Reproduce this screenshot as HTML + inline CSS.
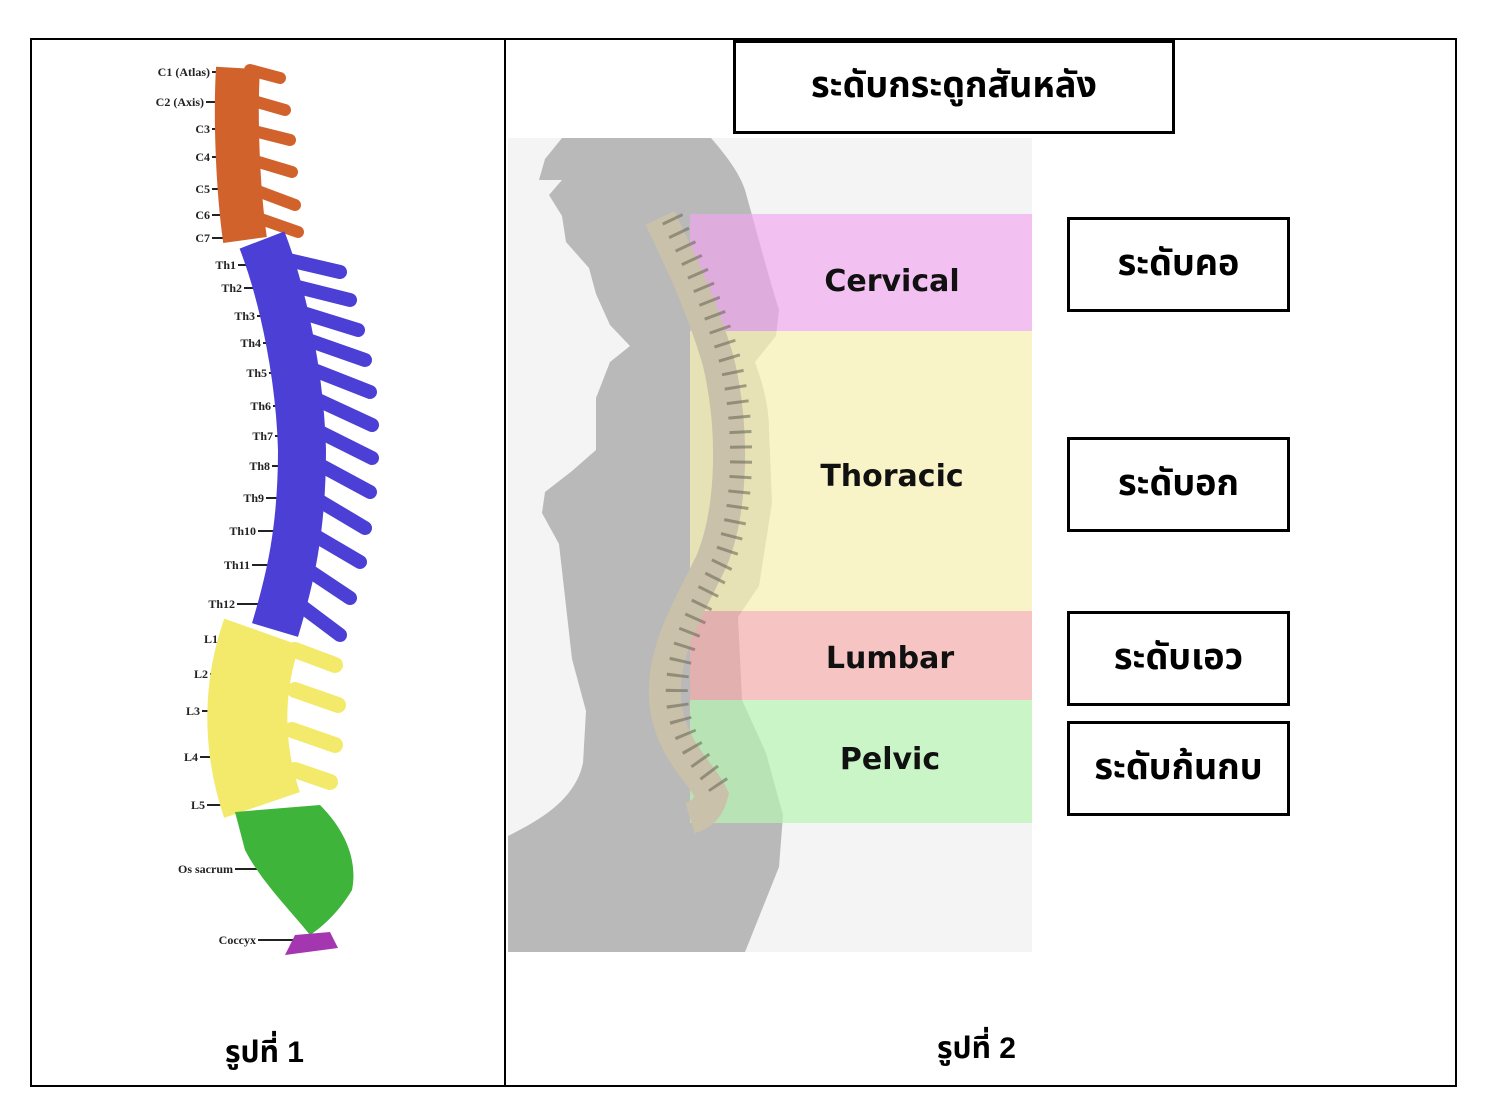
<!DOCTYPE html>
<html><head><meta charset="utf-8"><style>
body{margin:0;background:#fff;width:1496px;height:1120px;position:relative;overflow:hidden;font-family:"Liberation Sans",sans-serif}
.abs{position:absolute}
.box{position:absolute;border:3px solid #000;background:#fff;display:flex;align-items:center;justify-content:center;font-weight:bold;font-size:36px;box-sizing:border-box;font-family:"Liberation Sans","Noto Sans Thai","Garuda","Loma",sans-serif}
.cap{position:absolute;font-weight:bold;font-size:30px;font-family:"Liberation Sans","Noto Sans Thai","Garuda",sans-serif}
</style></head><body>
<div class="abs" style="left:30px;top:38px;width:1423px;height:1045px;border:2px solid #000"></div>
<div class="abs" style="left:504px;top:38px;width:2px;height:1047px;background:#000"></div>

<svg class="abs" style="left:0;top:0" width="1496" height="1120">
<g font-family="Liberation Serif,serif" font-size="12" font-weight="bold" fill="#222" text-anchor="end">
<text x="210" y="76">C1 (Atlas)</text><text x="204" y="106">C2 (Axis)</text>
<text x="210" y="133">C3</text><text x="210" y="161">C4</text><text x="210" y="193">C5</text><text x="210" y="219">C6</text><text x="210" y="242">C7</text>
<text x="236" y="269">Th1</text><text x="242" y="292">Th2</text><text x="255" y="320">Th3</text><text x="261" y="347">Th4</text><text x="267" y="377">Th5</text><text x="271" y="410">Th6</text><text x="273" y="440">Th7</text><text x="270" y="470">Th8</text><text x="264" y="502">Th9</text><text x="256" y="535">Th10</text><text x="250" y="569">Th11</text><text x="235" y="608">Th12</text>
<text x="218" y="643">L1</text><text x="208" y="678">L2</text><text x="200" y="715">L3</text><text x="198" y="761">L4</text><text x="205" y="809">L5</text>
<text x="233" y="873">Os sacrum</text><text x="256" y="944">Coccyx</text>
</g>
<g stroke="#222" stroke-width="2">
<line x1="212" y1="72" x2="222" y2="72"/><line x1="206" y1="102" x2="222" y2="102"/><line x1="212" y1="129" x2="225" y2="129"/><line x1="212" y1="157" x2="225" y2="157"/><line x1="212" y1="189" x2="228" y2="189"/><line x1="212" y1="215" x2="230" y2="215"/><line x1="212" y1="238" x2="235" y2="238"/>
<line x1="238" y1="265" x2="258" y2="265"/><line x1="244" y1="288" x2="266" y2="288"/><line x1="257" y1="316" x2="276" y2="316"/><line x1="263" y1="343" x2="284" y2="343"/><line x1="269" y1="373" x2="290" y2="373"/><line x1="273" y1="406" x2="292" y2="406"/><line x1="275" y1="436" x2="292" y2="436"/><line x1="272" y1="466" x2="290" y2="466"/><line x1="266" y1="498" x2="286" y2="498"/><line x1="258" y1="531" x2="280" y2="531"/><line x1="252" y1="565" x2="272" y2="565"/><line x1="237" y1="604" x2="260" y2="604"/>
<line x1="220" y1="639" x2="244" y2="639"/><line x1="210" y1="674" x2="232" y2="674"/><line x1="202" y1="711" x2="225" y2="711"/><line x1="200" y1="757" x2="222" y2="757"/><line x1="207" y1="805" x2="228" y2="805"/><line x1="235" y1="869" x2="262" y2="869"/><line x1="258" y1="940" x2="305" y2="940"/>
</g>
<path d="M238 68 C235 120 238 190 245 240" stroke="#d2622c" stroke-width="44" fill="none"/>
<g stroke="#d2622c" stroke-width="12" stroke-linecap="round">
<line x1="250" y1="70" x2="280" y2="78"/><line x1="250" y1="100" x2="285" y2="110"/><line x1="250" y1="130" x2="290" y2="140"/><line x1="252" y1="160" x2="292" y2="172"/><line x1="255" y1="190" x2="295" y2="205"/><line x1="258" y1="218" x2="298" y2="232"/></g>
<path d="M262 240 C285 300 300 380 302 450 C302 530 290 580 275 630" stroke="#4b3fd6" stroke-width="48" fill="none"/>
<g stroke="#4b3fd6" stroke-width="14" stroke-linecap="round">
<line x1="280" y1="258" x2="340" y2="272"/><line x1="290" y1="285" x2="350" y2="300"/><line x1="300" y1="312" x2="358" y2="330"/><line x1="308" y1="340" x2="365" y2="360"/><line x1="314" y1="370" x2="370" y2="392"/><line x1="318" y1="400" x2="372" y2="425"/><line x1="320" y1="432" x2="372" y2="458"/><line x1="320" y1="465" x2="370" y2="492"/><line x1="318" y1="500" x2="365" y2="528"/><line x1="314" y1="535" x2="360" y2="562"/><line x1="308" y1="570" x2="350" y2="598"/><line x1="300" y1="605" x2="340" y2="635"/></g>
<path d="M262 632 C245 680 240 740 262 805" stroke="#f3ea6c" stroke-width="80" fill="none"/>
<g stroke="#f3ea6c" stroke-width="16" stroke-linecap="round">
<line x1="295" y1="650" x2="335" y2="665"/><line x1="295" y1="690" x2="338" y2="705"/><line x1="292" y1="730" x2="335" y2="745"/><line x1="295" y1="770" x2="330" y2="782"/></g>
<path d="M235 812 L320 805 C345 830 358 860 352 890 C340 910 325 925 310 935 C290 910 260 880 245 850 Z" fill="#3fb43a"/>
<path d="M295 935 L330 932 L338 948 L285 955 Z" fill="#a436b0"/>

<rect x="508" y="138" width="524" height="814" fill="#f3f4f3"/>
<path d="M562 138 L711 138 C730 160 740 175 745 190 C755 225 766 268 779 310 L776 336 L755 362 C765 390 769 410 769 430 L772 503 L759 586 L738 617 L742 700 L766 753 L783 815 L779 867 L745 952 L508 952 L508 836 C540 820 575 800 583 763 L586 711 L572 659 L559 544 L542 513 L545 492 L572 471 L596 450 L596 398 L610 362 L630 346 L610 325 L596 294 L589 268 L566 242 L562 216 L549 195 L562 180 L539 180 L545 159 Z" fill="#b9b9b9"/>
<rect x="690" y="214" width="342" height="117" fill="#f2a6f0" opacity="0.65"/>
<rect x="690" y="331" width="342" height="280" fill="#fbf3b4" opacity="0.7"/>
<rect x="690" y="611" width="342" height="89" fill="#f7aaa8" opacity="0.65"/>
<rect x="690" y="700" width="342" height="123" fill="#b6f5b4" opacity="0.7"/>
<path d="M660 218 C680 260 700 300 718 360 C735 430 732 510 712 560 C688 610 662 650 665 700 C670 750 700 770 712 795 C708 810 700 815 690 818" stroke="#c9c1aa" stroke-width="32" fill="none"/>
<path d="M672 218 C692 260 712 300 730 360 C747 430 744 510 724 560 C700 610 674 650 677 700 C682 750 712 770 724 795" stroke="#6e6a58" stroke-width="22" fill="none" stroke-dasharray="3 12" opacity="0.6"/>
<g font-family="DejaVu Sans,sans-serif" font-weight="bold" font-size="30" fill="#111" text-anchor="middle">
<text x="892" y="291">Cervical</text><text x="892" y="486">Thoracic</text><text x="890" y="668">Lumbar</text><text x="890" y="769">Pelvic</text></g>
</svg>

<div class="box" style="left:733px;top:40px;width:442px;height:94px">ระดับกระดูกสันหลัง</div>
<div class="box" style="left:1067px;top:217px;width:223px;height:95px">ระดับคอ</div>
<div class="box" style="left:1067px;top:437px;width:223px;height:95px">ระดับอก</div>
<div class="box" style="left:1067px;top:611px;width:223px;height:95px">ระดับเอว</div>
<div class="box" style="left:1067px;top:721px;width:223px;height:95px">ระดับก้นกบ</div>
<div class="cap" style="left:225px;top:1030px">รูปที่ 1</div>
<div class="cap" style="left:937px;top:1026px">รูปที่ 2</div>
</body></html>
